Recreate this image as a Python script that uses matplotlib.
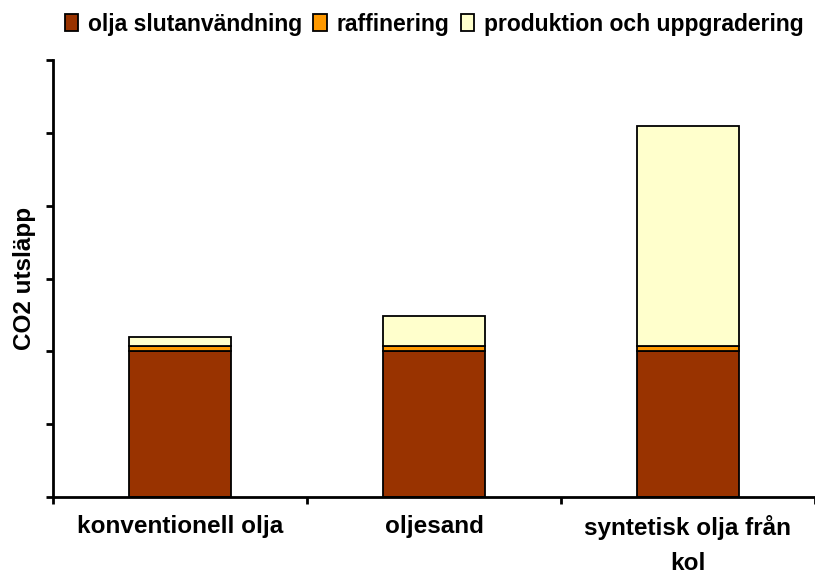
import matplotlib
matplotlib.use("Agg")
import matplotlib.pyplot as plt
import numpy as np

categories = ["konventionell olja", "oljesand", "syntetisk olja från\nkol"]
series_names = ["olja slutanvändning", "raffinering", "produktion och uppgradering"]
slutanvandning = [2.0, 2.0, 2.0]
raffinering = [0.08, 0.08, 0.08]
produktion = [0.11, 0.41, 3.01]
colors = ["#993300", "#FF9900", "#FFFFCC"]

plt.rcParams['font.family'] = ['Liberation Sans', 'DejaVu Sans']
plt.rcParams['font.weight'] = 'bold'

fig = plt.figure(figsize=(8.15, 5.78), dpi=100)
ax = fig.add_axes([53/815, 1-497/578, 1-53/815, (497-60)/578])

x = np.arange(len(categories))
bottom = np.zeros(len(categories))
handles = []
for vals, name, c in zip([slutanvandning, raffinering, produktion], series_names, colors):
    b = ax.bar(x, vals, width=0.4, bottom=bottom, color=c, edgecolor='black',
               linewidth=1.3, label=name)
    handles.append(b)
    bottom = bottom + np.array(vals)

ax.set_xlim(-0.5, 2.5)
ax.set_ylim(0, 6)
ax.set_yticks(range(0, 7))
ax.set_yticklabels([])
ax.set_xticks([-0.5, 0.5, 1.5, 2.5])
ax.set_xticklabels([])
ax.set_xticks(x, categories, minor=True)
ax.tick_params(axis='x', which='minor', length=0, pad=13, labelsize=17.5)
ax.tick_params(axis='both', which='major', direction='out', length=5, width=2)
for lbl in ax.get_xticklabels(minor=True):
    lbl.set_fontweight('bold')
    lbl.set_linespacing(1.65)
ax.spines['top'].set_visible(False)
ax.spines['right'].set_visible(False)
ax.spines['left'].set_linewidth(2)
ax.spines['bottom'].set_linewidth(2)
ax.spines['left'].set_zorder(5)

ax.set_ylabel("CO2 utsläpp", fontsize=17.5, fontweight='bold', labelpad=4)

fig.legend(handles=handles, labels=series_names, loc='center',
           bbox_to_anchor=(434/815, 1-24/578), ncol=3, frameon=False,
           prop={'size': 16.5, 'weight': 'bold'}, handlelength=0.6,
           handleheight=0.75, handletextpad=0.4, columnspacing=0.5,
           borderpad=0)

fig.savefig("out.png", dpi=100)
